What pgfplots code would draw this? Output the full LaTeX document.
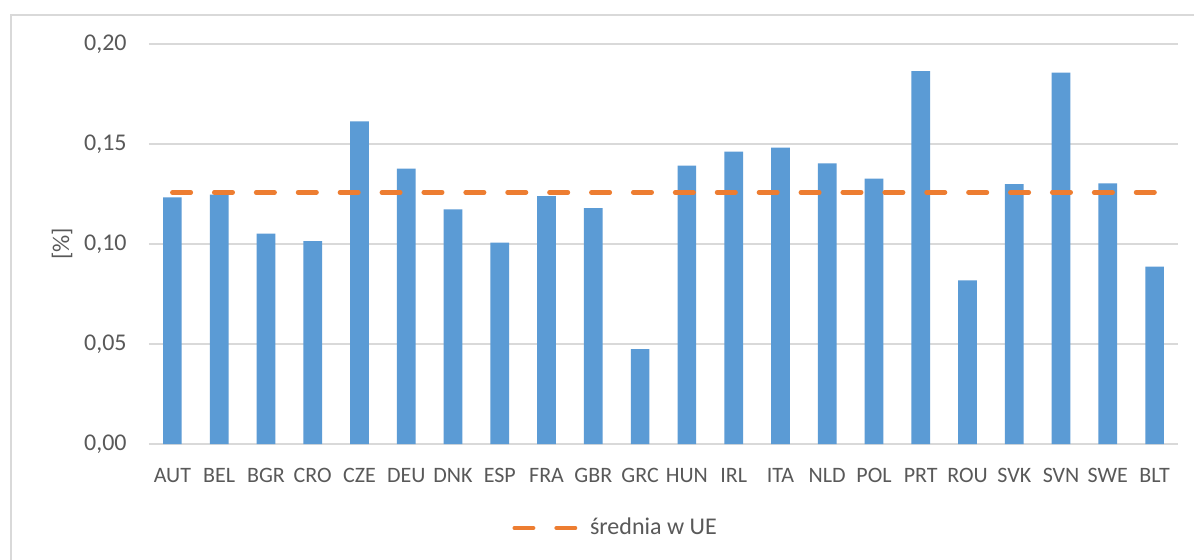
\documentclass[border=0pt]{standalone}
\usepackage{pgfplots}
\pgfplotsset{compat=1.18}
\usepackage{fontspec}
\setmainfont{Carlito}
\definecolor{barblue}{HTML}{5B9BD5}
\definecolor{lineor}{HTML}{ED7D31}
\definecolor{gridg}{HTML}{D9D9D9}
\definecolor{txt}{HTML}{595959}
\begin{document}
\begin{tikzpicture}
\useasboundingbox (-74.5pt,-57.5pt) rectangle (522.5pt,222pt);
\fill[white] (-74.5pt,-57.5pt) rectangle (522.5pt,222pt);
\draw[gridg, line width=1pt] (-69pt,-80pt) -- (-69pt,214.5pt) -- (540pt,214.5pt);
\begin{axis}[
  width=514.5pt, height=200pt, scale only axis,
  xmin=-0.5, xmax=21.5, ymin=0, ymax=0.2,
  ytick={0,0.05,0.1,0.15,0.2},
  xtick={0,...,21},
  xticklabels={AUT,BEL,BGR,CRO,CZE,DEU,DNK,ESP,FRA,GBR,GRC,HUN,IRL,ITA,NLD,POL,PRT,ROU,SVK,SVN,SWE,BLT},
  /pgf/number format/fixed, /pgf/number format/fixed zerofill,
  /pgf/number format/precision=2, /pgf/number format/use comma,
  /pgf/number format/assume math mode=true,
  scaled y ticks=false,
  ymajorgrids, grid style={gridg, line width=0.75pt},
  axis line style={draw=none}, major tick length=0pt,
  tick label style={text=txt},
  yticklabel style={anchor=east, inner sep=0pt, xshift=-11pt, font=\fontsize{12}{14}\selectfont},
  xticklabel style={anchor=base, inner sep=0pt, yshift=-19pt, font=\fontsize{11}{13}\selectfont},
  ylabel={[\%]},
  ylabel style={at={(axis description cs:-0.0845,0.5)}, anchor=center, font=\fontsize{12}{14}\selectfont, text=txt},
  legend style={draw=none, fill=none, at={(0.3528,-0.21)}, anchor=west, inner sep=0pt,
    font=\fontsize{12}{14}\selectfont, text=txt, nodes={inner sep=0pt}},
  legend cell align=left,
  legend image code/.code={\draw[#1] (0pt,0pt) -- (30.5pt,0pt);},
]
\addplot[ybar, bar width=9.35pt, fill=barblue, draw=none, forget plot] coordinates {
(0,0.1233) (1,0.1247) (2,0.1052) (3,0.1015) (4,0.1613) (5,0.1377) (6,0.1173) (7,0.1007)
(8,0.1240) (9,0.1180) (10,0.0475) (11,0.1392) (12,0.1462) (13,0.1482) (14,0.1403)
(15,0.1327) (16,0.1865) (17,0.0818) (18,0.1300) (19,0.1857) (20,0.1303) (21,0.0887)};
\addplot[lineor, line width=2.3pt, line cap=round, dash pattern=on 9.2pt off 11.75pt] coordinates {(0,0.1258) (21,0.1258)};
\addlegendentry{\hspace{6pt}średnia w UE}
\end{axis}
\end{tikzpicture}
\end{document}
